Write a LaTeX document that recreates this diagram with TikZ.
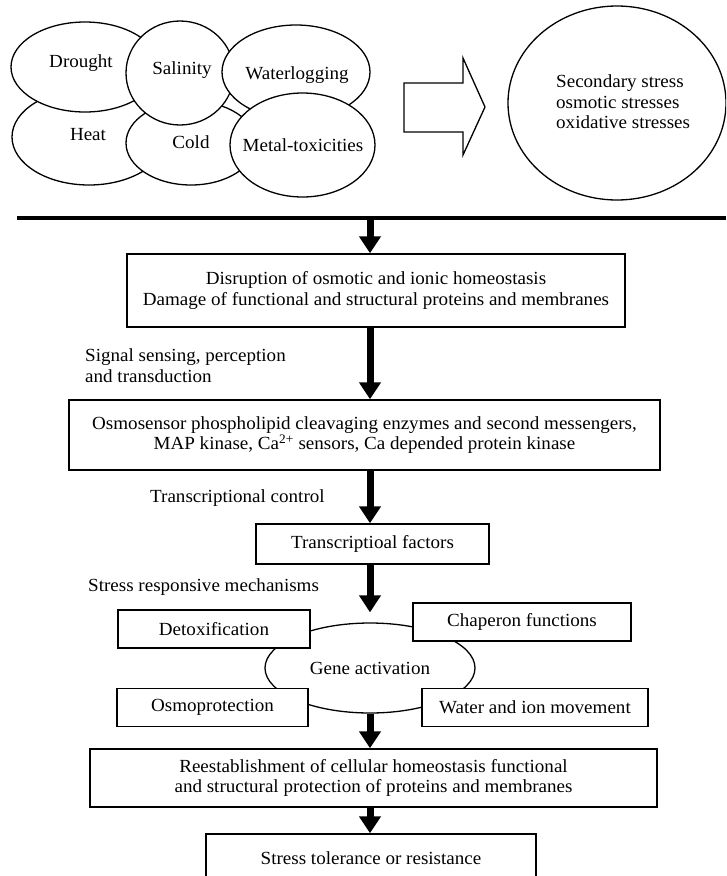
\documentclass[tikz,border=0pt]{standalone}
\usepackage{fontspec}
\setmainfont[FakeStretch=1.03]{Liberation Serif}
\usetikzlibrary{shapes.geometric,arrows.meta,calc}
\tikzset{
  x=1pt,y=-1pt,
  txt/.style={font=\fontsize{18.5}{20.5}\selectfont, inner sep=0pt},
  stbox/.style={draw, line width=1.4pt, fill=white, minimum width=#1, inner sep=0pt, font=\fontsize{18.5}{20.5}\selectfont, align=center},
  bubble/.style={draw, ellipse, line width=1.3pt, fill=white, inner sep=0pt},
  bigarrow/.style={line width=7pt, -{Triangle[length=17pt,width=21pt]}},
  lbl/.style={anchor=west, font=\fontsize{18.5}{20.5}\selectfont, inner sep=0pt, align=left},
}
\begin{document}
\begin{tikzpicture}
\clip (0,0) rectangle (726,876);
\fill[white] (0,0) rectangle (726,876);
% top bubbles
\node[bubble, minimum width=154pt, minimum height=96pt] (eheat) at (89,137) {};
\node[bubble, minimum width=148pt, minimum height=90pt] (edrought) at (85,67) {};
\node[bubble, minimum width=130pt, minimum height=84pt] (ecold) at (191,143) {};
\node[bubble, minimum width=108pt, minimum height=104pt] (esal) at (180,73) {};
\node[bubble, minimum width=148pt, minimum height=94pt] (ewater) at (296,72) {};
\node[bubble, minimum width=145pt, minimum height=104pt] (emetal) at (302.5,145) {};
\node[txt] (tdrought) at (81,63) {Drought};
\node[txt] (theat) at (88,135) {Heat};
\node[txt] (tsal) at (182,70) {Salinity};
\node[txt] (tcold) at (191,142) {Cold};
\node[txt] (twater) at (297,75) {Waterlogging};
\node[txt] (tmetal) at (303,145) {Metal-toxicities};
% block arrow
\draw[line width=1.3pt, line join=miter] (404,83) -- (463,83) -- (463,58) -- (485,107) -- (463,155) -- (463,132) -- (404,132) -- cycle;
% secondary ellipse
\node[bubble, minimum width=218pt, minimum height=194pt] (esec) at (617,103) {};
\node[txt, anchor=west, align=left] (tsec) at (556,102) {Secondary stress\\osmotic stresses\\oxidative stresses};
% separator line
\coordinate (lineL) at (17,218);
\coordinate (lineR) at (726,218);
\draw[line width=4pt] (lineL) -- (lineR);
\coordinate (axis) at (370,0);
% boxes
\node[stbox=498pt, minimum height=73pt] (box1) at (376,290.5) {Disruption of osmotic and ionic homeostasis\\Damage of functional and structural proteins and membranes};
\node[stbox=591pt, minimum height=70pt] (box2) at (364.5,435) {Osmosensor phospholipid cleavaging enzymes and second messengers,\\MAP kinase, Ca\textsuperscript{2+} sensors, Ca depended protein kinase};
\node[stbox=233pt, minimum height=40pt] (box3) at (372.5,544) {Transcriptioal factors};
\node[bubble, minimum width=210pt, minimum height=90pt, font=\fontsize{18.5}{20.5}\selectfont] (gene) at (370,668) {Gene activation};
\node[stbox=192pt, minimum height=38pt] (detox) at (214,629) {Detoxification};
\node[stbox=218pt, minimum height=38pt] (chap) at (522,622) {Chaperon functions};
\node[stbox=191pt, minimum height=38pt] (osmo) at (212.5,707.5) {Osmoprotection};
\node[stbox=226pt, minimum height=38pt] (water) at (535,707.5) {Water and ion movement};
\node[stbox=567pt, minimum height=58pt] (box4) at (373.5,778) {Reestablishment of cellular homeostasis functional\\and structural protection of proteins and membranes};
\node[stbox=330pt, minimum height=48pt] (box5) at (371,858) {Stress tolerance or resistance};
% labels
\node[lbl] (l1) at (85,365.5) {Signal sensing, perception\\and transduction};
\node[lbl] (l2) at (150,498) {Transcriptional control};
\node[lbl] (l3) at (88,587) {Stress responsive mechanisms};
% arrows
\draw[bigarrow] (lineL -| axis) -- (box1.north -| axis);
\draw[bigarrow] (box1.south -| axis) -- (box2.north -| axis);
\draw[bigarrow] (box2.south -| axis) -- (box3.north -| axis);
\coordinate (gtop) at ($(gene.north)+(0,-10)$);
\draw[bigarrow] (box3.south -| axis) -- (gtop -| axis);
\draw[bigarrow] (gene.south -| axis) -- (box4.north -| axis);
\draw[bigarrow] (box4.south -| axis) -- (box5.north -| axis);
\end{tikzpicture}
\end{document}
